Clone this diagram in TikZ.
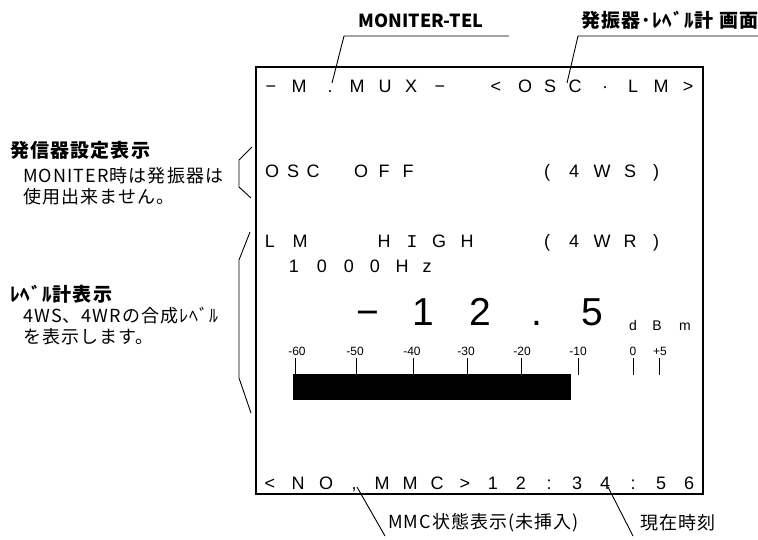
\documentclass[tikz,border=0pt]{standalone}
\usepackage{fontspec}
\setmainfont{Liberation Sans}
\newfontfamily\jp{Noto Sans CJK JP}[LetterSpace=6]
\newfontfamily\jpn{Noto Sans CJK JP}
\newfontfamily\lcd{Liberation Sans}
\newfontfamily\lcdmono{Liberation Mono}
\begin{document}
\begin{tikzpicture}[x=1pt,y=-1pt,
  lcdch/.style={font=\lcd\fontsize{18}{18}\selectfont, inner sep=0pt, anchor=base},
  bigch/.style={font=\lcd\fontsize{39}{39}\selectfont, inner sep=0pt, anchor=base},
  unitch/.style={font=\lcd\fontsize{14}{14}\selectfont, inner sep=0pt, anchor=base},
  scalech/.style={font=\lcd\fontsize{12}{12}\selectfont, inner sep=0pt, anchor=base},
  lbl/.style={font=\jp\fontsize{18}{20}\selectfont, inner sep=0pt, anchor=west},
  headlbl/.style={font=\jp\bfseries\fontsize{19}{21}\selectfont, inner sep=0pt, anchor=west},
  leader/.style={line width=0.9pt},
  tickline/.style={line width=1pt},
  frame/.style={line width=2.7pt}]
\useasboundingbox (0,0) rectangle (758,539);

% display frame
\draw[frame] (256,67) rectangle (703,494);

% line 1
\foreach \x/\c [count=\i] in {271/{−},299/M,330/.,357/M,385/U,411/X,440/{−},496/{<},525/O,550/S,575/C,605/{·},633/L,661/M,688/{>}}
  \node[lcdch] (la\i) at (\x,92) {\c};
% line 2
\foreach \x/\c [count=\i] in {272/O,293/S,313/C,361/O,384/F,408/F,547/{(},574/4,602/W,630/S,656/{)}}
  \node[lcdch] (lb\i) at (\x,177) {\c};
% line 3
\foreach \x/\c [count=\i] in {270/L,300/M,384/H,412/{\lcdmono I},439/G,467/H,547/{(},574/4,602/W,630/R,656/{)}}
  \node[lcdch] (lc\i) at (\x,247) {\c};
% line 4
\foreach \x/\c [count=\i] in {294/1,322/0,349/0,375/0,402/H,427/z}
  \node[lcdch] (ld\i) at (\x,272) {\c};
% big value
\foreach \x/\c [count=\i] in {368/{−},423/1,480/2,537/.,592/5}
  \node[bigch] (bv\i) at (\x,325) {\c};
\foreach \x/\c [count=\i] in {633/d,657/B,685/m}
  \node[unitch] (un\i) at (\x,330) {\c};
% scale
\foreach \x/\c [count=\i] in {297/-60,355/-50,412/-40,466/-30,522/-20,578/-10,633/0,660/+5}
  \node[scalech] (sc\i) at (\x,355) {\c};
\foreach \x in {295,356,413,467,521,578,633,659}
  \draw[tickline] (\x,358) -- (\x,375);
\fill[black] (293,374) rectangle (571,400);
% last line
\foreach \x/\c [count=\i] in {270/{<},298/N,326/O,354/{,},382/M,410/M,437/C,465/{>},493/1,521/2,549/{:},577/3,605/4,633/{:},661/5,689/6}
  \node[lcdch] (le\i) at (\x,489) {\c};

% top labels
\node[headlbl, anchor=center, font=\jpn\bfseries\fontsize{18}{20}\selectfont] (tl1) at (421,21) {MONITER-TEL};
\node[headlbl] (tl2) at (581,20) {発振器･ﾚﾍﾞﾙ計 画面};
\coordinate (u1a) at (344,36); \coordinate (u1b) at (509,36); \coordinate (u1c) at (332,83);
\coordinate (u2a) at (578,36); \coordinate (u2b) at (758,36); \coordinate (u2c) at (567,83);
\draw[leader] (u1b) -- (u1a) -- (u1c);
\draw[leader] (u2b) -- (u2a) -- (u2c);

% left labels
\node[headlbl] (ll1) at (10,150) {発信器設定表示};
\node[lbl] (ll2) at (23,176) {MONITER時は発振器は};
\node[lbl] (ll3) at (23,197) {使用出来ません。};
\node[headlbl] (ll4) at (10,294) {ﾚﾍﾞﾙ計表示};
\node[lbl] (ll5) at (23,316) {4WS、4WRの合成ﾚﾍﾞﾙ};
\node[lbl] (ll6) at (23,337) {を表示します。};
\coordinate (b1a) at (252,147); \coordinate (b1b) at (239,160);
\coordinate (b1c) at (239,187); \coordinate (b1d) at (251,198);
\draw[leader] (b1a) -- (b1b) -- (b1c) -- (b1d);
\coordinate (b2a) at (250,232); \coordinate (b2b) at (239,260);
\coordinate (b2c) at (239,378); \coordinate (b2d) at (251,413);
\draw[leader] (b2a) -- (b2b) -- (b2c) -- (b2d);

% bottom labels
\node[lbl] (bl1) at (388,523) {MMC状態表示(未挿入)};
\node[lbl] (bl2) at (640,523) {現在時刻};
\coordinate (m1a) at (357,487); \coordinate (m1b) at (385,536);
\coordinate (m2a) at (608,487); \coordinate (m2b) at (633,536);
\draw[leader] (m1a) -- (m1b);
\draw[leader] (m2a) -- (m2b);
\end{tikzpicture}
\end{document}
